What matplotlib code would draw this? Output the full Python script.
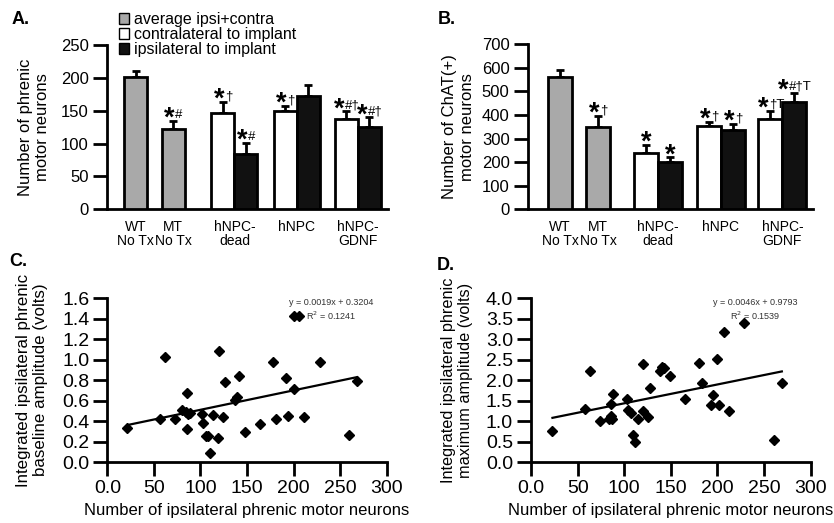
import numpy as np
import matplotlib
matplotlib.use("Agg")
import matplotlib.pyplot as plt
from matplotlib.patches import Patch

plt.rcParams['font.family'] = ['Liberation Sans', 'DejaVu Sans']

# ---------------- datos ----------------
grupos = ["WT\nNo Tx", "MT\nNo Tx", "hNPC-\ndead", "hNPC", "hNPC-\nGDNF"]
leyenda = ["average ipsi+contra", "contralateral to implant", "ipsilateral to implant"]

# A: motoneuronas frenicas (WT, MT promedio; dead, hNPC, GDNF contra/ipsi)
a_prom = [201, 123]
a_prom_err = [10, 12]
a_contra = [146, 150, 138]
a_contra_err = [17, 7, 11]
a_ipsi = [84, 173, 126]
a_ipsi_err = [17, 16, 14]
a_marcas = ["", "*#", "*\u2020", "*\u2020", "*#\u2020", "*#", "", "*#\u2020"]

# B: motoneuronas ChAT(+)
b_prom = [562, 348]
b_prom_err = [29, 47]
b_contra = [237, 352, 384]
b_contra_err = [36, 19, 35]
b_ipsi = [200, 338, 457]
b_ipsi_err = [20, 24, 38]
b_marcas = ["", "*\u2020", "*", "*\u2020", "*\u2020T", "*", "*\u2020", "*#\u2020T"]

# C: amplitud basal vs numero de motoneuronas ipsilaterales
c_x = [21.5, 56.6, 61.6, 72.7, 80.6, 84.5, 85.2, 85.2, 87, 88.8, 102, 102.4,
       106, 108, 110, 113, 119, 119.6, 124, 126, 137, 139, 141, 148, 164,
       178, 181.5, 191.5, 193.7, 200, 206, 200.5, 211, 228, 259, 268]
c_y = [0.336, 0.417, 1.023, 0.417, 0.508, 0.49, 0.671, 0.32, 0.469, 0.476,
       0.469, 0.378, 0.254, 0.257, 0.085, 0.459, 0.231, 1.082, 0.437, 0.779,
       0.606, 0.635, 0.841, 0.293, 0.371, 0.981, 0.42, 0.82, 0.45, 1.427,
       1.427, 0.717, 0.443, 0.98, 0.264, 0.795]
c_pendiente, c_ordenada, c_r2 = 0.0019, 0.3204, 0.1241

# D: amplitud maxima vs numero de motoneuronas ipsilaterales
d_x = [23, 57.6, 63.3, 74, 83.3, 85.4, 86, 86.9, 88.3, 103.3, 104, 106.9,
       109, 111.5, 115, 119.8, 119.8, 125.5, 127.6, 138.4, 140.5, 142.7, 149,
       165, 179.8, 183.4, 194.9, 193.4, 199.9, 202, 207, 212, 228.5, 260.6, 269]
d_y = [0.77, 1.31, 2.22, 1.0, 1.05, 1.14, 1.42, 1.06, 1.67, 1.54, 1.28, 1.21,
       0.67, 0.49, 1.06, 2.40, 1.24, 1.10, 1.81, 2.22, 2.33, 2.29, 2.11, 1.55,
       2.43, 1.94, 1.64, 1.41, 2.51, 1.41, 3.19, 1.25, 3.41, 0.545, 1.94]
d_pendiente, d_ordenada, d_r2 = 0.0046, 0.9793, 0.1539

x_ticks_disp = [0, 50, 100, 150, 200, 250, 300]
x_ticklabels_disp = ["0.0", "50", "100", "150", "200", "250", "300"]

GRIS = "#a9a9a9"
NEGRO = "#111111"


def panel_barras(ax, pos, centros, xlim, prom, prom_err, contra, contra_err,
                 ipsi, ipsi_err, marcas, ymax, ystep, ylabel, labelpad):
    p_prom, p_contra, p_ipsi = pos
    alturas = prom + contra + ipsi
    errores = prom_err + contra_err + ipsi_err
    xs = p_prom + p_contra + p_ipsi
    ax.bar(p_prom, prom, width=1, color=GRIS, edgecolor="black", lw=2, zorder=3)
    ax.bar(p_contra, contra, width=1, color="white", edgecolor="black", lw=2, zorder=3)
    ax.bar(p_ipsi, ipsi, width=1, color=NEGRO, edgecolor="black", lw=2, zorder=3)
    ax.errorbar(xs, alturas, yerr=[[0] * len(xs), errores], fmt="none",
                ecolor="black", elinewidth=2, capsize=3, capthick=2, zorder=2)
    # simbolos de significancia: asterisco grande + simbolos pequenos
    for x, h, e, m in zip(xs, alturas, errores, marcas):
        if not m:
            continue
        resto = m[1:]
        w_star = 8.0
        w_resto = 5.3 * len(resto)
        frontera = (w_star - w_resto) / 2
        ax.annotate("*", (x, h + e), xytext=(frontera, -3.5), textcoords="offset points",
                    ha="right", va="baseline", fontsize=19.5, fontweight="bold")
        if resto:
            ax.annotate(resto, (x, h + e), xytext=(frontera + 0.2, 2), textcoords="offset points",
                        ha="left", va="baseline", fontsize=9.5)
    ax.set_xlim(*xlim)
    ax.set_ylim(0, ymax)
    ax.set_yticks(np.arange(0, ymax + 1, ystep))
    ax.set_xticks(centros)
    ax.set_xticklabels(grupos, fontsize=10)
    for t in ax.get_xticklabels():
        t.set_linespacing(1.0)
    ax.tick_params(axis="x", length=0, pad=8)
    ax.tick_params(axis="y", length=10, width=2, labelsize=12, pad=3)
    ax.set_ylabel(ylabel, fontsize=12, labelpad=labelpad)
    for s in ("top", "right"):
        ax.spines[s].set_visible(False)
    for s in ("left", "bottom"):
        ax.spines[s].set_linewidth(2)


def panel_dispersion(ax, x, y, pendiente, ordenada, r2, ymax, ystep, ylabel,
                     ylabel_size, labelpad):
    ax.plot(x, y, "D", color="black", ms=5.5, mec="black")
    xl = np.array([min(x), max(x)])
    ax.plot(xl, pendiente * xl + ordenada, color="black", lw=1.6)
    ax.text(0.80, 1.0, "y = %.4fx + %.4f\nR$^2$ = %.4f" % (pendiente, ordenada, r2),
            transform=ax.transAxes, ha="center", va="top", fontsize=6.5, color="#333333")
    ax.set_xlim(0, 300)
    ax.set_ylim(0, ymax)
    ax.set_xticks(x_ticks_disp)
    ax.set_xticklabels(x_ticklabels_disp)
    yt = np.arange(0, ymax + 1e-9, ystep)
    ax.set_yticks(yt)
    ax.set_yticklabels(["%.1f" % v for v in yt])
    ax.tick_params(length=10, width=2, labelsize=14, pad=3)
    ax.set_xlabel("Number of ipsilateral phrenic motor neurons", fontsize=12, labelpad=4)
    ax.set_ylabel(ylabel, fontsize=ylabel_size, labelpad=labelpad)
    for s in ("top", "right"):
        ax.spines[s].set_visible(False)
    for s in ("left", "bottom"):
        ax.spines[s].set_linewidth(2)


fig = plt.figure(figsize=(8.34, 5.23), dpi=100)
ax_a = fig.add_axes([0.1283, 0.5998, 0.337, 0.314])
ax_b = fig.add_axes([0.6327, 0.5998, 0.342, 0.3155])
ax_c = fig.add_axes([0.1287, 0.1166, 0.335, 0.313])
ax_d = fig.add_axes([0.6367, 0.116, 0.3354, 0.3136])

panel_barras(ax_a, ([0, 1.63], [3.8, 6.5, 9.17], [4.8, 7.5, 10.17]),
             [0, 1.63, 4.3, 7.0, 9.67], (-1.24, 10.98),
             a_prom, a_prom_err, a_contra, a_contra_err, a_ipsi, a_ipsi_err,
             a_marcas, 250, 50, "Number of phrenic\nmotor neurons", 8)
panel_barras(ax_b, ([0, 1.58], [3.59, 6.2, 8.77], [4.58, 7.2, 9.77]),
             [0, 1.58, 4.08, 6.7, 9.27], (-1.35, 10.54),
             b_prom, b_prom_err, b_contra, b_contra_err, b_ipsi, b_ipsi_err,
             b_marcas, 700, 100, "Number of ChAT(+)\nmotor neurons", 5)

panel_dispersion(ax_c, c_x, c_y, c_pendiente, c_ordenada, c_r2, 1.6, 0.2,
                 "Integrated ipsilateral phrenic\nbaseline amplitude (volts)", 12.2, 10)
panel_dispersion(ax_d, d_x, d_y, d_pendiente, d_ordenada, d_r2, 4.0, 0.5,
                 "Integrated ipsilateral phrenic\nmaximum amplitude (volts)", 11.7, 9)

manijas = [Patch(facecolor=GRIS, edgecolor="black", lw=1),
           Patch(facecolor="white", edgecolor="black", lw=1),
           Patch(facecolor=NEGRO, edgecolor="black", lw=1)]
fig.legend(manijas, leyenda, loc="upper left", bbox_to_anchor=(119 / 834, 1 - 12 / 523),
           frameon=False, fontsize=11.5, handlelength=0.65, handleheight=0.65,
           handletextpad=0.3, labelspacing=0.0, borderpad=0, borderaxespad=0)

for letra, x, y in [("A.", 12, 20), ("B.", 438, 20), ("C.", 9, 261), ("D.", 437, 266)]:
    fig.text(x / 834, 1 - y / 523, letra, fontsize=13, fontweight="bold", va="center")

fig.savefig("out.png", dpi=100)
